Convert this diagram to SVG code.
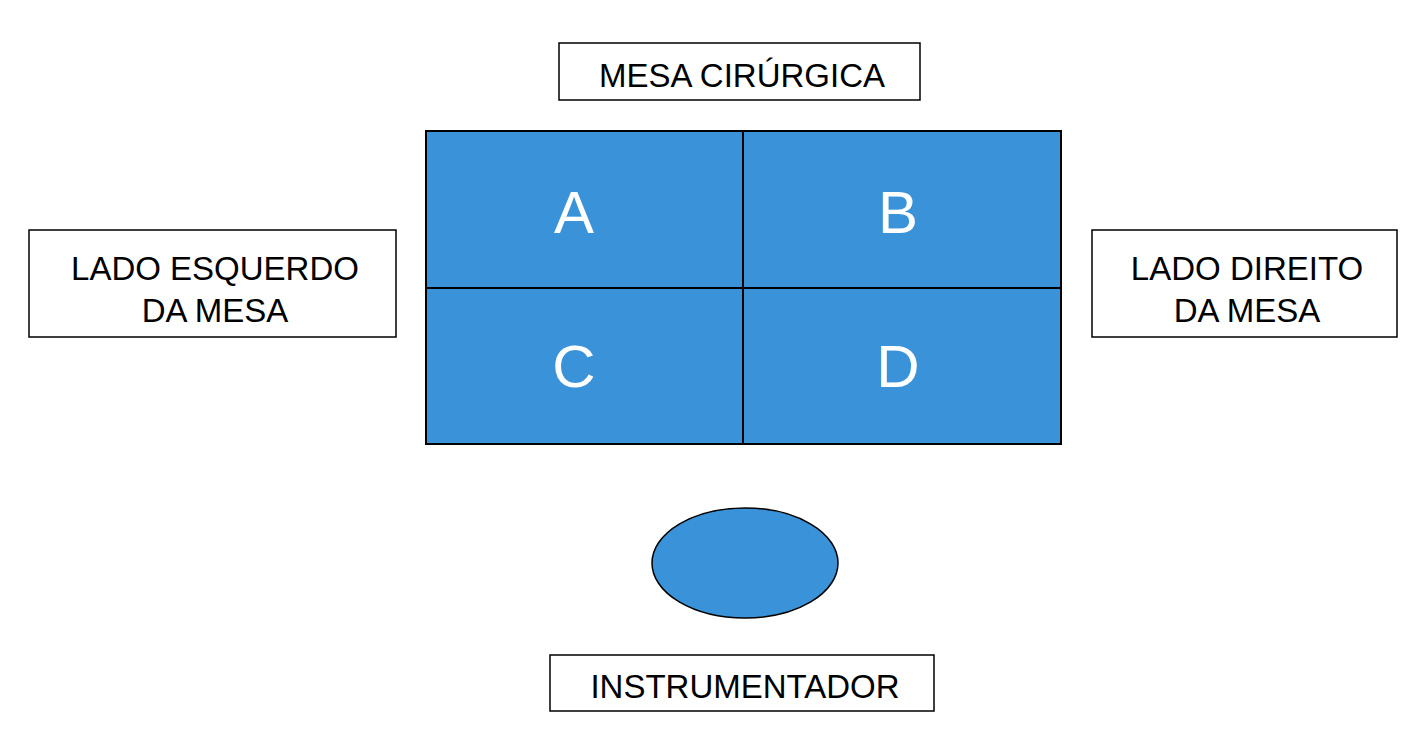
<svg xmlns="http://www.w3.org/2000/svg" width="1424" height="752" viewBox="0 0 1424 752">
<style>
.box{fill:#fff;stroke:#000;stroke-width:1.5}
.cell{fill:#3a93d8;stroke:#000;stroke-width:2}
.lbl{font-family:"Liberation Sans",Arial,sans-serif;font-size:33px;fill:#000;text-anchor:middle}
.big{font-family:"Liberation Sans",Arial,sans-serif;font-size:60px;fill:#fff;text-anchor:middle}
</style>
<rect width="1424" height="752" fill="#fff"/>
<g id="mesa-cirurgica"><rect class="box" x="559" y="43" width="361" height="57"/><text class="lbl" x="742" y="87">MESA CIRÚRGICA</text></g>
<g id="A"><rect class="cell" x="426" y="131" width="317" height="157"/><text class="big" x="574" y="233">A</text></g>
<g id="B"><rect class="cell" x="743" y="131" width="318" height="157"/><text class="big" x="898" y="233">B</text></g>
<g id="C"><rect class="cell" x="426" y="288" width="317" height="156"/><text class="big" x="574" y="387">C</text></g>
<g id="D"><rect class="cell" x="743" y="288" width="318" height="156"/><text class="big" x="898" y="387">D</text></g>
<g id="lado-esquerdo"><rect class="box" x="29" y="230" width="367" height="107"/><text class="lbl" x="215" y="280">LADO ESQUERDO</text><text class="lbl" x="215" y="322">DA MESA</text></g>
<g id="lado-direito"><rect class="box" x="1092" y="230" width="305" height="107"/><text class="lbl" x="1247" y="280">LADO DIREITO</text><text class="lbl" x="1247" y="322">DA MESA</text></g>
<g id="instrumentador-shape"><ellipse cx="745" cy="563" rx="93" ry="55" fill="#3a93d8" stroke="#000" stroke-width="1.5"/></g>
<g id="instrumentador"><rect class="box" x="550" y="655" width="384" height="56"/><text class="lbl" x="745" y="698">INSTRUMENTADOR</text></g>
<g id="connectors"></g>
</svg>
